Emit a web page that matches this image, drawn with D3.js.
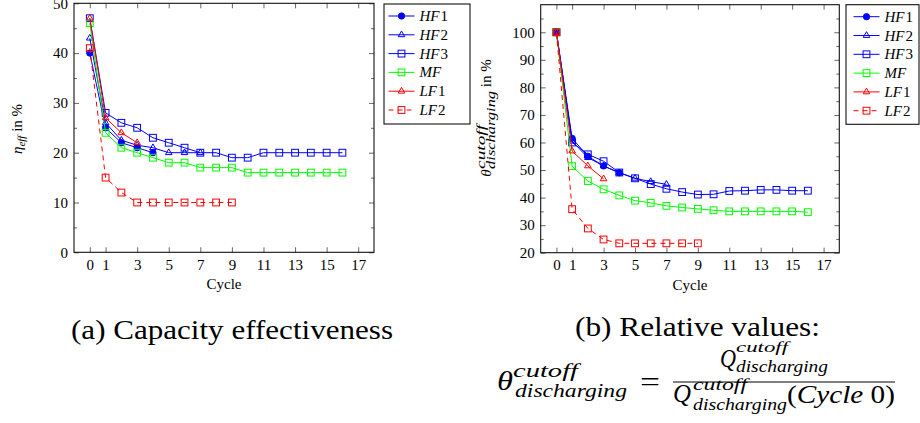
<!DOCTYPE html>
<html>
<head>
<meta charset="utf-8">
<script src="https://cdn.jsdelivr.net/npm/d3@7"></script>
<style>
  html, body { margin: 0; padding: 0; background: #fff; }
  svg { display: block; }
</style>
</head>
<body>
<svg id="fig" width="920" height="423"></svg>
<script>
// ---- data: one value per cycle, starting at cycle 0 ----
const seriesNames = ["HF1", "HF2", "HF3", "MF", "LF1", "LF2"];

// capacity effectiveness eta_eff in %
const effHF1 = [40, 25, 22, 21, 20];
const effHF2 = [43, 26, 22.5, 21.5, 21, 20, 20, 20];
const effHF3 = [47, 28, 26, 25, 23, 22, 21, 20, 20, 19, 19, 20, 20, 20, 20, 20, 20];
const effMF  = [46, 24, 21, 20, 19, 18, 18, 17, 17, 17, 16, 16, 16, 16, 16, 16, 16];
const effLF1 = [47, 27, 24, 22];
const effLF2 = [41, 15, 12, 10, 10, 10, 10, 10, 10, 10];

// relative discharge capacity theta in %
const relHF1 = [100, 61.5, 55, 51.5, 49];
const relHF2 = [100, 60.5, 54.5, 51.5, 49, 47, 45.8, 44.8];
const relHF3 = [100, 60, 55.7, 53.2, 49.1, 47, 44.9, 43.2, 42, 41.1, 41.2, 42.4, 42.5, 42.8, 42.8, 42.5, 42.5];
const relMF  = [100, 51.4, 46, 43, 40.8, 38.9, 38.1, 37, 36.4, 35.9, 35.4, 35, 35, 35, 35, 35, 34.7];
const relLF1 = [100, 56.9, 51.5, 46.8];
const relLF2 = [100, 35.8, 28.8, 24.8, 23.4, 23.4, 23.4, 23.4, 23.4, 23.4];

// tick values
const xTicks = [0, 1, 3, 5, 7, 9, 11, 13, 15, 17];
const effTicks = [0, 10, 20, 30, 40, 50];
const effMinor = [5, 15, 25, 35, 45];
const relTicks = [20, 30, 40, 50, 60, 70, 80, 90, 100];
const relMinor = [25, 35, 45, 55, 65, 75, 85, 95, 105];

// ---- pick an installed serif face ----
function pickSerif() {
  const cands = ["Liberation Serif", "DejaVu Serif", "Noto Serif", "Tinos", "Times New Roman",
                 "FreeSerif", "Nimbus Roman", "Nimbus Roman No9 L", "Times"];
  const ctx = document.createElement("canvas").getContext("2d");
  const probe = "Capacity effectiveness 0123456789 mwWilQ";
  const width = f => { ctx.font = "40px " + f; return ctx.measureText(probe).width; };
  const base1 = width("monospace");
  for (const c of cands) {
    const a = width(`"${c}", monospace`), b = width(`"${c}", sans-serif`);
    if (a !== base1 && Math.abs(a - b) < 0.01) return `"${c}", serif`;
  }
  return "serif";
}
const SERIF = pickSerif();

// ---- styles ----
const BLUE = "#0000ff", GREEN = "#00ff00", RED = "#ff0000";
const styles = {
  HF1: { color: BLUE,  mark: "circle",   dash: null },
  HF2: { color: BLUE,  mark: "triangle", dash: null },
  HF3: { color: BLUE,  mark: "square",   dash: null },
  MF:  { color: GREEN, mark: "square",   dash: null },
  LF1: { color: RED,   mark: "triangle", dash: null },
  LF2: { color: RED,   mark: "square",   dash: "5,4" }
};

const svg = d3.select("#fig").attr("font-family", SERIF);

function drawMark(g, kind, cx, cy, color) {
  if (kind === "circle") {
    g.append("circle").attr("cx", cx).attr("cy", cy).attr("r", 3.2)
      .attr("fill", color).attr("stroke", color).attr("stroke-width", 0.8);
  } else if (kind === "square") {
    const h = 3.4;
    g.append("rect").attr("x", cx - h).attr("y", cy - h).attr("width", 2 * h).attr("height", 2 * h)
      .attr("fill", "none").attr("stroke", color).attr("stroke-width", 1);
  } else {
    const r = 3.8;
    const pts = [[cx, cy - r], [cx + 0.866 * r, cy + 0.5 * r], [cx - 0.866 * r, cy + 0.5 * r]];
    g.append("path").attr("d", "M" + pts.map(p => p.join(",")).join("L") + "Z")
      .attr("fill", "none").attr("stroke", color).attr("stroke-width", 1);
  }
}

function panel(opt) {
  const g = svg.append("g");
  const x = d3.scaleLinear().domain([-1, 18]).range([opt.left, opt.right]);
  const y = d3.scaleLinear().domain(opt.yDomain).range([opt.bottom, opt.top]);

  const styleAxis = sel => {
    sel.select(".domain").remove();
    sel.attr("font-family", SERIF).attr("font-size", 15);
    sel.selectAll("line").attr("stroke", "#555").attr("stroke-width", 0.9);
    sel.selectAll("text").attr("fill", "#000");
  };

  g.append("g").attr("transform", `translate(0,${opt.bottom})`)
    .call(d3.axisBottom(x).tickValues(xTicks).tickSize(-5).tickPadding(7).tickFormat(d3.format("d")))
    .call(styleAxis);
  g.append("g").attr("transform", `translate(0,${opt.top})`)
    .call(d3.axisTop(x).tickValues(xTicks).tickSize(-5).tickFormat(""))
    .call(styleAxis);
  g.append("g").attr("transform", `translate(${opt.left},0)`)
    .call(d3.axisLeft(y).tickValues(opt.yTicks).tickSize(-5).tickPadding(6).tickFormat(d3.format("d")))
    .call(styleAxis);
  g.append("g").attr("transform", `translate(${opt.right},0)`)
    .call(d3.axisRight(y).tickValues(opt.yTicks).tickSize(-5).tickFormat(""))
    .call(styleAxis);
  g.append("g").attr("transform", `translate(${opt.left},0)`)
    .call(d3.axisLeft(y).tickValues(opt.yMinor).tickSize(-3).tickFormat(""))
    .call(styleAxis);
  g.append("g").attr("transform", `translate(${opt.right},0)`)
    .call(d3.axisRight(y).tickValues(opt.yMinor).tickSize(-3).tickFormat(""))
    .call(styleAxis);

  // frame
  g.append("rect").attr("x", opt.left).attr("y", opt.top)
    .attr("width", opt.right - opt.left).attr("height", opt.bottom - opt.top)
    .attr("fill", "none").attr("stroke", "#111").attr("stroke-width", 1.1);

  // series
  const line = d3.line().x((d, i) => x(i)).y(d => y(d));
  opt.series.forEach((vals, k) => {
    const st = styles[seriesNames[k]];
    const sg = g.append("g");
    sg.append("path").datum(vals).attr("d", line)
      .attr("fill", "none").attr("stroke", st.color).attr("stroke-width", 1)
      .attr("stroke-dasharray", st.dash);
    vals.forEach((v, i) => drawMark(sg, st.mark, x(i), y(v), st.color));
  });

  // x label
  g.append("text").attr("x", (opt.left + opt.right) / 2).attr("y", opt.bottom + 37)
    .attr("text-anchor", "middle").attr("font-size", 15).text("Cycle");

  return { g, x, y };
}

function legend(x0, y0, w, h, lineOff) {
  const g = svg.append("g");
  g.append("rect").attr("x", x0).attr("y", y0).attr("width", w).attr("height", h)
    .attr("fill", "#fff").attr("stroke", "#111").attr("stroke-width", 1.1);
  seriesNames.forEach((name, i) => {
    const st = styles[name];
    const ry = y0 + 12 + i * 18.8;
    const lx = x0 + lineOff;
    g.append("line").attr("x1", lx).attr("x2", lx + 26).attr("y1", ry).attr("y2", ry)
      .attr("stroke", st.color).attr("stroke-width", 1).attr("stroke-dasharray", st.dash);
    drawMark(g, st.mark, lx + 13, ry, st.color);
    const t = g.append("text").attr("x", lx + 31).attr("y", ry + 5).attr("font-size", 15);
    const m = name.match(/^([A-Z]+)(\d*)$/);
    t.append("tspan").attr("font-style", "italic").text(m[1]);
    if (m[2]) t.append("tspan").attr("dx", 1).text(m[2]);
  });
}

// text helper: places a string and returns its advance width
function put(parent, x, y, str, size, italic, len) {
  const t = parent.append("text").attr("x", x).attr("y", y).attr("font-size", size)
    .attr("font-style", italic ? "italic" : "normal").text(str);
  if (len) t.attr("textLength", len).attr("lengthAdjust", "spacingAndGlyphs");
  return len || t.node().getComputedTextLength();
}

// ---- panel (a) ----
panel({
  left: 74, right: 374, top: 3.3, bottom: 252.3,
  yDomain: [0, 50], yTicks: effTicks, yMinor: effMinor,
  series: [effHF1, effHF2, effHF3, effMF, effLF1, effLF2]
});
legend(384, 4, 86, 120, 4.5);

// y label: eta_eff in %
{
  const outer = svg.append("g").attr("transform", "translate(22,129) rotate(-90)");
  const inner = outer.append("g");
  let cx = 0;
  cx += put(inner, cx, 0, "η", 15, true);
  cx += put(inner, cx, 3, "eff", 11, true);
  cx += put(inner, cx, 0, "\u00a0in %", 15, false);
  inner.attr("transform", `translate(${-cx / 2},0)`);
}

// ---- panel (b) ----
panel({
  left: 540.7, right: 839.3, top: 4.7, bottom: 252.7,
  yDomain: [20, 110], yTicks: relTicks, yMinor: relMinor,
  series: [relHF1, relHF2, relHF3, relMF, relLF1, relLF2]
});
legend(846, 4.7, 73, 119.6, 7.5);

// y label: theta^cutoff_discharging in %
{
  const outer = svg.append("g").attr("transform", "translate(491,118) rotate(-90)");
  const inner = outer.append("g");
  let cx = 0;
  cx += put(inner, cx, 0, "θ", 15, true);
  const w1 = put(inner, cx + 0.5, -6, "cutoff", 13, true, 44);
  const w2 = put(inner, cx + 0.5, 4, "discharging", 13, true, 78);
  cx += Math.max(w1, w2) + 0.5;
  cx += put(inner, cx, 0, "\u00a0in %", 15, false);
  inner.attr("transform", `translate(${-cx / 2},0)`);
}

// ---- captions ----
put(svg, 71, 339, "(a) Capacity effectiveness", 28, false, 322);
put(svg, 575, 336, "(b) Relative values:", 28, false, 245);

// definition of theta as a fraction
{
  const f = svg.append("g");
  put(f, 497, 390, "θ", 28, true, 16);
  put(f, 513, 377, "cutoff", 19, true, 65);
  put(f, 515, 397, "discharging", 19, true, 112);
  put(f, 640, 391, "=", 28, false, 20);
  f.append("line").attr("x1", 673).attr("x2", 895).attr("y1", 382).attr("y2", 382)
    .attr("stroke", "#000").attr("stroke-width", 1);
  // numerator
  put(f, 720, 367, "Q", 25, true, 16);
  put(f, 736, 352, "cutoff", 15, true, 52);
  put(f, 736, 372, "discharging", 16, true, 92);
  // denominator
  put(f, 673, 402, "Q", 25, true, 18);
  put(f, 693, 390, "cutoff", 16, true, 54);
  put(f, 693, 410, "discharging", 16, true, 94);
  const den = f.append("text").attr("x", 787).attr("y", 403).attr("font-size", 25)
    .attr("textLength", 108).attr("lengthAdjust", "spacingAndGlyphs");
  den.append("tspan").text("(");
  den.append("tspan").attr("font-style", "italic").text("Cycle");
  den.append("tspan").text("\u00a00)");
}
</script>
</body>
</html>
